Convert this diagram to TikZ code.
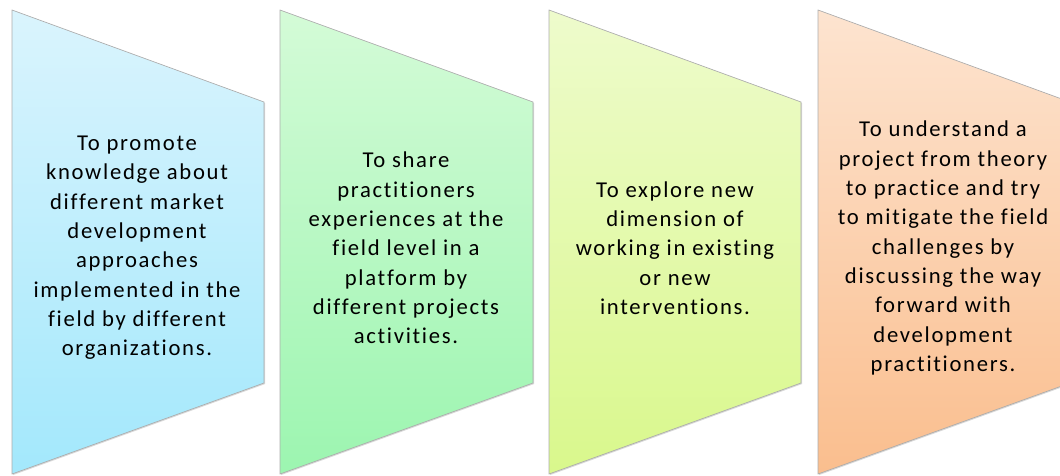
\documentclass[tikz,border=0pt]{standalone}
\usepackage{fontspec}
\setmainfont{Carlito}[Ligatures=NoCommon, LetterSpace=7.5]
\usetikzlibrary{shadows}

\definecolor{blueTop}{RGB}{218,244,253}
\definecolor{blueBot}{RGB}{163,232,252}
\definecolor{greenTop}{RGB}{212,251,215}
\definecolor{greenBot}{RGB}{156,245,176}
\definecolor{limeTop}{RGB}{238,251,204}
\definecolor{limeBot}{RGB}{217,248,140}
\definecolor{orangeTop}{RGB}{253,228,208}
\definecolor{orangeBot}{RGB}{250,190,142}

\begin{document}
\begin{tikzpicture}[x=0.75pt,y=-0.75pt,
    panel/.style={draw=gray!65, line width=0.5pt,
        drop shadow={opacity=0.3, shadow xshift=0.8pt, shadow yshift=-0.8pt}},
    caption/.style={align=center, text=black,
        font=\fontsize{17}{22}\selectfont}]
    \useasboundingbox (0,0) rectangle (1060,475);
    \clip (0,0) rectangle (1060,475);

    % first panel
    \draw[panel, top color=blueTop, bottom color=blueBot]
        (12,10) -- (264,102) -- (264,383) -- (12,474) -- cycle;
    \node[caption] (promote) at (137,248) {To promote\\knowledge about\\different market\\development\\approaches\\implemented in the\\field by different\\organizations.};

    % second panel
    \draw[panel, top color=greenTop, bottom color=greenBot]
        (280,10) -- (533,102) -- (533,383) -- (280,474) -- cycle;
    \node[caption] (share) at (406,248) {To share\\practitioners\\experiences at the\\field level in a\\platform by\\different projects\\activities.};

    % third panel
    \draw[panel, top color=limeTop, bottom color=limeBot]
        (549,10) -- (801,102) -- (801,383) -- (549,474) -- cycle;
    \node[caption] (explore) at (675,248) {To explore new\\dimension of\\working in existing\\or new\\interventions.};

    % fourth panel, cut by the right edge
    \draw[panel, top color=orangeTop, bottom color=orangeBot]
        (818,10) -- (1070,102) -- (1070,383) -- (818,474) -- cycle;
    \node[caption] (understand) at (943,248) {To understand a\\project from theory\\to practice and try\\to mitigate the field\\challenges by\\discussing the way\\forward with\\development\\practitioners.};
\end{tikzpicture}
\end{document}
